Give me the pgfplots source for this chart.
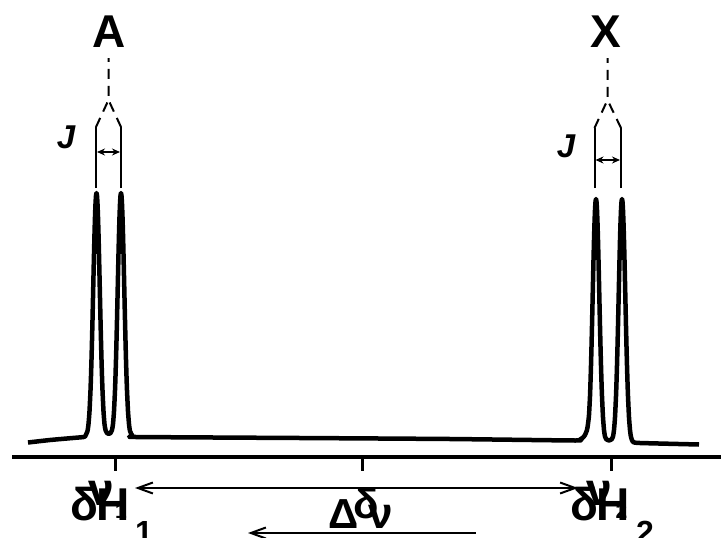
\documentclass[border=0pt]{standalone}
\usepackage{fontspec}
\setmainfont{Liberation Sans}
\usepackage{pgfplots}
\pgfplotsset{compat=1.18}
\usetikzlibrary{arrows.meta}
\pgfplotstableread{
x y
28 442.5
50 440
75 437.8
82 437.2
85 436.5
87.5 431
88.5 424
89.5 411.3
90.5 390.3
91 376.1
91.5 359.6
92 340.7
92.5 320
93 298
93.5 275.6
94 253.9
94.5 233.9
95 216.9
95.5 203.9
96 195.8
96.5 193
97 195.8
97.5 203.9
98 216.9
98.5 233.9
99 253.9
99.5 275.6
100 298
100.5 320
101 340.7
101.5 359.6
102 376.1
102.5 390.3
103.5 411.3
104.5 424
105.5 430
107 433
108.75 434
110.5 433
112 430
113 424
114 411.3
115 390.3
115.5 376.1
116 359.6
116.5 340.7
117 320
117.5 298
118 275.6
118.5 253.9
119 233.9
119.5 216.9
120 203.9
120.5 195.8
121 193
121.5 195.8
122 203.9
122.5 216.9
123 233.9
123.5 253.9
124 275.6
124.5 298
125 320
125.5 340.7
126 359.6
126.5 376.1
127 390.3
128 411.3
129 424
130 431
132.5 436
136 437
300 438
450 439
575 440.5
580 439.5
583 437.5
585 435
587 430
588 424
589 415
590 396.3
590.5 382
591 365.6
591.5 346.7
592 326
592.5 304
593 281.6
593.5 260
594 240
594.5 223
595 210
595.5 201.8
596 199
596.5 201.8
597 210
597.5 223
598 240
598.5 260
599 281.6
599.5 304
600 326
600.5 346.7
601 365.6
601.5 382
602 396.3
603 417.3
604 430
605 436.5
606.5 439.5
609 440.5
611.5 439.5
613 436.5
614 430
615 417.3
616 396.3
616.5 382
617 365.6
617.5 346.7
618 326
618.5 304
619 281.6
619.5 260
620 240
620.5 223
621 210
621.5 201.8
622 199
622.5 201.8
623 210
623.5 223
624 240
624.5 260
625 281.6
625.5 304
626 326
626.5 346.7
627 365.6
627.5 382
628 396.3
629 417.3
630 430
631 437
633 442
640 443
699 444.5
}\spectrum
\begin{document}
\begin{tikzpicture}
\useasboundingbox (0,0) rectangle (721pt,538pt);
\clip (0,0) rectangle (721pt,538pt);
\begin{axis}[
  at={(0,0)}, anchor=south west,
  scale only axis, width=721pt, height=538pt,
  xmin=0, xmax=721, ymin=0, ymax=538, y dir=reverse,
  hide axis, clip=false,
]
% spectrum
\addplot[black, line width=4.5pt, line join=round, smooth, tension=0.3] table[x=x,y=y] {\spectrum};
% baseline axis
\addplot[black, line width=4pt] coordinates {(12,457) (721,457)};
\addplot[black, line width=3pt] coordinates {(115,457) (115,471)};
\addplot[black, line width=3pt] coordinates {(362,457) (362,471)};
\addplot[black, line width=3pt] coordinates {(611,457) (611,471)};
% splitting markers A
\draw[line width=2pt] (axis cs:96,188) -- (axis cs:96,127);
\draw[line width=2pt] (axis cs:121,188) -- (axis cs:121,127);
\draw[line width=2pt, dash pattern=on 10pt off 7pt] (axis cs:96,127) -- (axis cs:108.5,100) -- (axis cs:108.5,58);
\draw[line width=2pt, dash pattern=on 10pt off 7pt] (axis cs:121,127) -- (axis cs:108.5,100);
\draw[line width=1.5pt, {Stealth[length=8pt,width=7pt]}-{Stealth[length=8pt,width=7pt]}] (axis cs:97,152) -- (axis cs:120,152);
% splitting markers X
\draw[line width=2pt] (axis cs:594.5,188) -- (axis cs:594.5,128);
\draw[line width=2pt] (axis cs:621,188) -- (axis cs:621,128);
\draw[line width=2pt, dash pattern=on 10pt off 7pt] (axis cs:594.5,128) -- (axis cs:607.5,100) -- (axis cs:607.5,58);
\draw[line width=2pt, dash pattern=on 10pt off 7pt] (axis cs:621,128) -- (axis cs:607.5,100);
\draw[line width=1.5pt, {Stealth[length=8pt,width=7pt]}-{Stealth[length=8pt,width=7pt]}] (axis cs:595.5,160) -- (axis cs:620,160);
% labels
\node[anchor=base, inner sep=0pt, font=\fontsize{46}{46}\selectfont\bfseries] at (axis cs:109,47) {A};
\node[anchor=base, inner sep=0pt, font=\fontsize{46}{46}\selectfont\bfseries] at (axis cs:606,47) {X};
\node[anchor=base, inner sep=0pt, font=\fontsize{33}{33}\selectfont\bfseries\itshape] at (axis cs:66,148) {J};
\node[anchor=base, inner sep=0pt, font=\fontsize{33}{33}\selectfont\bfseries\itshape] at (axis cs:566,157) {J};
% bottom arrows
\draw[line width=2pt, {Straight Barb[length=15pt,width=11pt]}-{Straight Barb[length=15pt,width=11pt]}] (axis cs:135,488) -- (axis cs:578,488);
\draw[line width=2pt, {Straight Barb[length=15pt,width=11pt]}-] (axis cs:248,533) -- (axis cs:476,533);
% bottom labels left
\node[anchor=base, inner sep=0pt, font=\fontsize{46}{46}\selectfont\bfseries] at (axis cs:84,520) {δ};
\node[anchor=base, inner sep=0pt, font=\fontsize{46}{46}\selectfont\bfseries] at (axis cs:113.5,520) {H};
\node[anchor=base, inner sep=0pt, font=\fontsize{32}{32}\selectfont\bfseries] at (axis cs:144,543) {1};
\node[anchor=base, inner sep=0pt, font=\fontsize{46}{46}\selectfont\bfseries] at (axis cs:101,505) {ν};
\node[anchor=base, inner sep=0pt, font=\fontsize{21}{21}\selectfont\bfseries] at (axis cs:121,518) {1};
% bottom labels centre
\node[anchor=base, inner sep=0pt, font=\fontsize{42}{42}\selectfont\bfseries] at (axis cs:366,518) {δ};
\node[anchor=base, inner sep=0pt, font=\fontsize{42}{42}\selectfont\bfseries] at (axis cs:344,528) {Δ};
\node[anchor=base, inner sep=0pt, font=\fontsize{44}{44}\selectfont\bfseries] at (axis cs:381,528) {ν};
% bottom labels right
\node[anchor=base, inner sep=0pt, font=\fontsize{46}{46}\selectfont\bfseries] at (axis cs:584,520) {δ};
\node[anchor=base, inner sep=0pt, font=\fontsize{46}{46}\selectfont\bfseries] at (axis cs:613.5,520) {H};
\node[anchor=base, inner sep=0pt, font=\fontsize{32}{32}\selectfont\bfseries] at (axis cs:645,543) {2};
\node[anchor=base, inner sep=0pt, font=\fontsize{46}{46}\selectfont\bfseries] at (axis cs:599,505) {ν};
\node[anchor=base, inner sep=0pt, font=\fontsize{21}{21}\selectfont\bfseries] at (axis cs:621.5,518) {2};
\end{axis}
\end{tikzpicture}
\end{document}
